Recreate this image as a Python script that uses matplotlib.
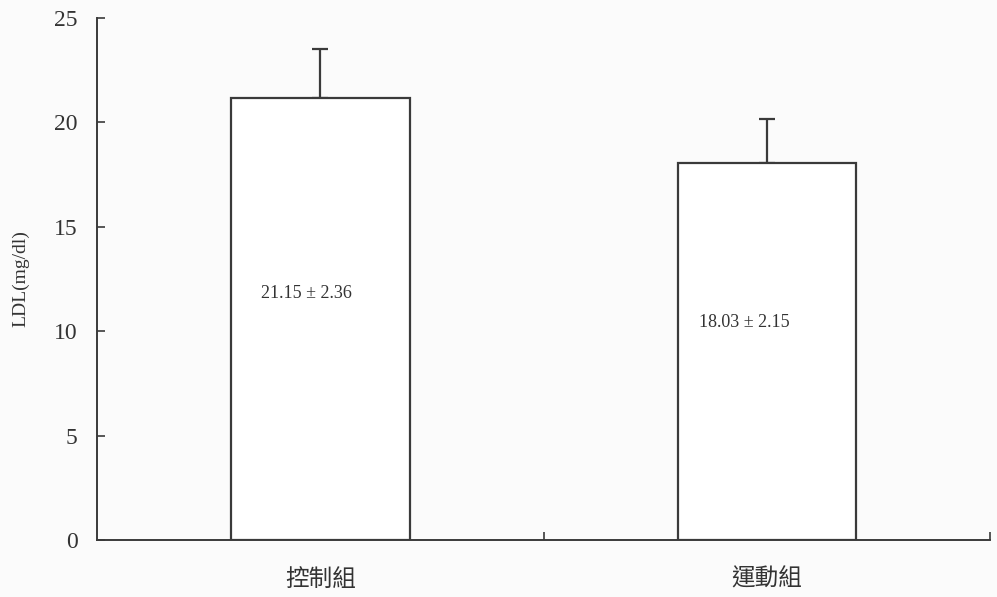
import matplotlib.pyplot as plt
import numpy as np

# LDL by group
groups = ["控制組", "運動組"]
means = [21.15, 18.03]
sds = [2.36, 2.15]
labels = ["21.15 ± 2.36", "18.03 ± 2.15"]
label_y = [11.8, 10.4]
yticks = [0, 5, 10, 15, 20, 25]

ink = "#3a3a3a"
serif = ["Liberation Serif", "DejaVu Serif"]
cjk = ["Noto Sans CJK TC", "DejaVu Sans"]

fig = plt.figure(figsize=(9.97, 5.97), dpi=100, facecolor="#fbfbfb")
ax = fig.add_axes([0.0973, 0.0955, 0.896, 0.8745])
ax.set_facecolor("#fbfbfb")

x = np.arange(len(groups))
ax.bar(x, means, width=0.4, color="white", edgecolor=ink, linewidth=1.6, zorder=2)
ax.errorbar(x, means, yerr=[np.zeros(len(sds)), sds], fmt="none",
            ecolor=ink, elinewidth=1.6, capsize=6, capthick=1.6, zorder=1)

for xi, yi, s, dx in zip(x, label_y, labels, [-0.03, -0.05]):
    ax.text(xi + dx, yi, s, ha="center", va="center", fontsize=13,
            family=serif, color="#333333")

ax.set_xlim(-0.5, 1.5)
ax.set_ylim(0, 25)
ax.set_yticks(yticks)
ax.set_yticklabels([str(t) for t in yticks], family=serif, fontsize=17, color="#333333")
ax.tick_params(axis="y", direction="in", length=6, width=1.2, color=ink, pad=14)

ax.set_xticks(x)
ax.set_xticklabels(groups, family=cjk, fontsize=17, color="#333333")
ax.tick_params(axis="x", which="major", length=0, pad=20)
ax.set_xticks([0.5, 1.5], minor=True)
ax.tick_params(axis="x", which="minor", direction="in", length=6, width=1.2, color=ink)

ax.set_ylabel("LDL(mg/dl)", family=serif, fontsize=14, color="#333333", labelpad=18)

for side in ["top", "right"]:
    ax.spines[side].set_visible(False)
for side in ["left", "bottom"]:
    ax.spines[side].set_color(ink)
    ax.spines[side].set_linewidth(1.4)

fig.savefig("out.png", dpi=100, facecolor=fig.get_facecolor())
